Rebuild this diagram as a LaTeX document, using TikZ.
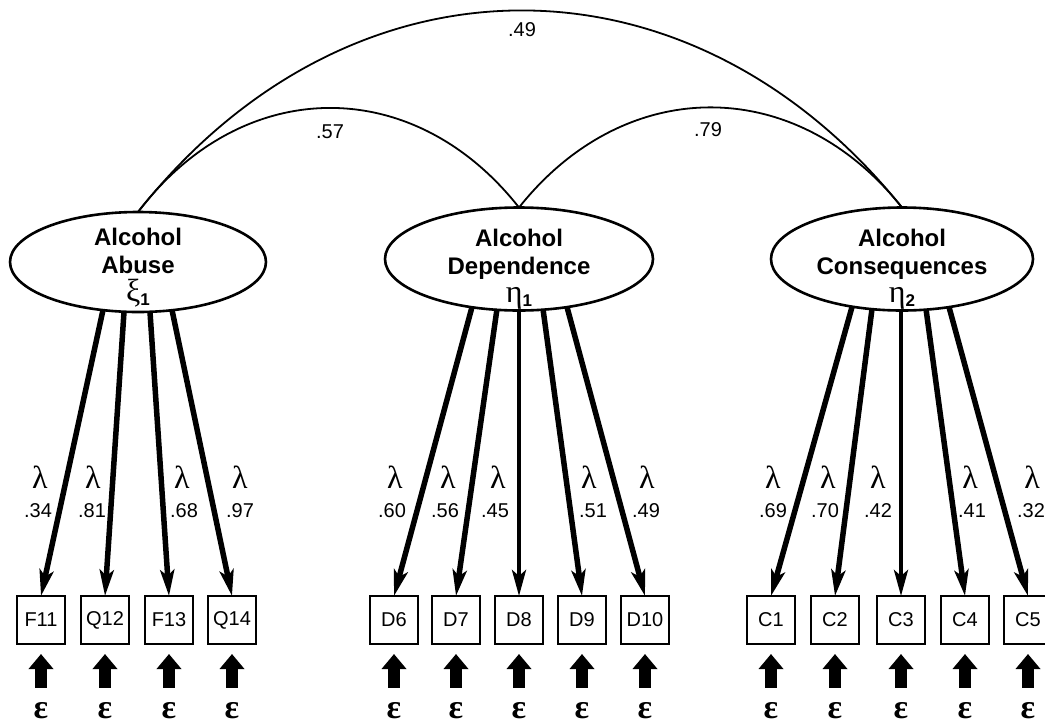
\documentclass[tikz,border=0pt]{standalone}
\usepackage{fontspec}
\setmainfont{Liberation Sans}
\newfontfamily\grk{Liberation Serif}
\usetikzlibrary{arrows.meta,calc,shapes.geometric}
\begin{document}
\begin{tikzpicture}[x=1pt,y=-1pt,
 latent/.style={draw,ellipse,line width=2.6pt,inner sep=0pt,outer sep=0pt},
 ltext/.style={align=center,inner sep=0pt,font=\fontsize{24}{28}\selectfont\bfseries},
 obs/.style={draw,line width=2.2pt,minimum width=48pt,minimum height=48pt,inner sep=0pt,outer sep=0pt,font=\fontsize{20}{20}\selectfont},
 load/.style={line width=5.5pt,-{Stealth[length=26pt,width=14pt,inset=6pt]}},
 loadv/.style={load,line width=4pt},
 corr/.style={line width=1.8pt},
 lam/.style={inner sep=0pt,font=\grk\fontsize{32}{32}\selectfont},
 val/.style={inner sep=0pt,font=\fontsize{20}{20}\selectfont},
 eps/.style={inner sep=0pt,anchor=base,font=\grk\bfseries\fontsize{34}{34}\selectfont},
 err/.style={line width=12pt,-{Triangle[length=15pt,width=24pt]},shorten <=14pt,shorten >=10pt},
 num/.style={inner sep=0pt,font=\fontsize{20}{20}\selectfont}
]
\useasboundingbox (0,0) rectangle (1045,724);

% latent variables
\node[latent,minimum width=256pt,minimum height=100pt] (abuse) at (138,262) {};
\node[latent,minimum width=268pt,minimum height=103pt] (dep) at (519,259) {};
\node[latent,minimum width=262pt,minimum height=103pt] (cons) at (902,259) {};
\node[ltext] (abuseT) at ($(abuse)+(0,6)$) {Alcohol\\Abuse\\{\grk\mdseries\fontsize{32}{28}\selectfont ξ}{\fontsize{17}{17}\selectfont\raisebox{-4pt}{1}}};
\node[ltext] (depT) at ($(dep)+(0,10)$) {Alcohol\\Dependence\\{\grk\mdseries\fontsize{32}{28}\selectfont η}{\fontsize{17}{17}\selectfont\raisebox{-4pt}{1}}};
\node[ltext] (consT) at ($(cons)+(0,10)$) {Alcohol\\Consequences\\{\grk\mdseries\fontsize{32}{28}\selectfont η}{\fontsize{17}{17}\selectfont\raisebox{-4pt}{2}}};

% correlations
\draw[corr] (abuse.north) .. controls (350,-56) and (690,-56) .. (cons.north);
\draw[corr] (abuse.north) .. controls (243,74) and (414,74) .. (dep.north);
\draw[corr] (dep.north) .. controls (625,74) and (796,74) .. (cons.north);
\node[num] (r49) at (522,30) {.49};
\node[num] (r57) at (330,132) {.57};
\node[num] (r79) at (708,130) {.79};

% observed variables
\foreach \n/\x in {F11/41,Q12/105,F13/169,Q14/232,D6/394,D7/456,D8/519,D9/582,D10/645,C1/771,C2/835,C3/901,C4/965,C5/1028}{
  \node[obs] (\n) at (\x,620) {\n};
  \node[eps] (e\n) at (\x,718) {ε};
  \draw[err] (e\n.north) -- (\n.south);
}

% loadings
\draw[load] ($(abuse)+(-35,48)$) -- (F11.north);
\draw[load] ($(abuse)+(-14,50)$) -- (Q12.north);
\draw[load] ($(abuse)+(12,50)$) -- (F13.north);
\draw[load] ($(abuse)+(34,48)$) -- (Q14.north);
\draw[load] ($(dep)+(-47,48)$) -- (D6.north);
\draw[load] ($(dep)+(-22,50)$) -- (D7.north);
\draw[loadv] ($(dep)+(0,51)$) -- (D8.north);
\draw[load] ($(dep)+(24,50)$) -- (D9.north);
\draw[load] ($(dep)+(48,48)$) -- (D10.north);
\draw[load] ($(cons)+(-50,48)$) -- (C1.north);
\draw[load] ($(cons)+(-30,50)$) -- (C2.north);
\draw[loadv] ($(cons)+(-1,51)$) -- (C3.north);
\draw[load] ($(cons)+(24,50)$) -- (C4.north);
\draw[load] ($(cons)+(47,48)$) -- (C5.north);

% loading labels
\foreach \i/\lx/\vx/\v in {1/40/38/.34,2/93/92/.81,3/182/184/.68,4/240/240/.97,
  5/395/392/.60,6/448/445/.56,7/498/495/.45,8/589/593/.51,9/647/646/.49,
  10/773/773/.69,11/828/825/.70,12/878/878/.42,13/970/972/.41,14/1032/1031/.32}{
  \node[lam] (l\i) at (\lx,477) {λ};
  \node[val] (v\i) at (\vx,511) {\v};
}
\end{tikzpicture}
\end{document}
